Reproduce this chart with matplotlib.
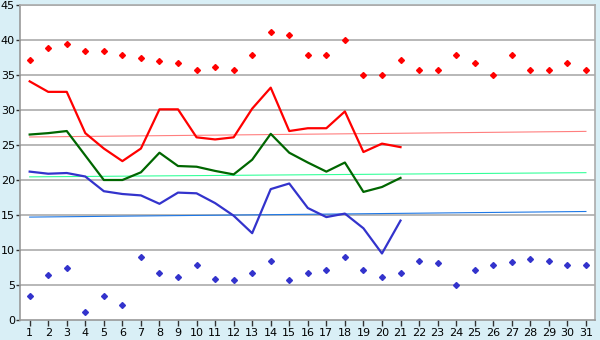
import matplotlib
matplotlib.use('Agg')
import matplotlib.pyplot as plt

days = list(range(1, 32))

# daily maxima / minima (points)
max_points = [37.2, 38.9, 39.4, 38.4, 38.4, 37.8, 37.4, 37.0, 36.7, 35.7,
              36.1, 35.7, 37.8, 41.1, 40.7, 37.8, 37.8, 40.0, 35.0, 35.0,
              37.2, 35.7, 35.7, 37.8, 36.7, 35.0, 37.8, 35.7, 35.7, 36.7,
              35.7]
min_points = [3.4, 6.4, 7.4, 1.1, 3.4, 2.2, 9.0, 6.7, 6.1, 7.8,
              5.8, 5.7, 6.7, 8.4, 5.7, 6.7, 7.2, 9.0, 7.2, 6.1,
              6.7, 8.4, 8.1, 5.0, 7.2, 7.8, 8.3, 8.7, 8.4, 7.8,
              7.8]

# measured lines, days 1..21
line_days = days[:21]
max_line = [34.1, 32.6, 32.6, 26.7, 24.5, 22.7, 24.5, 30.1, 30.1, 26.1,
            25.8, 26.1, 30.2, 33.2, 27.0, 27.4, 27.4, 29.8, 24.0, 25.2,
            24.7]
avg_line = [26.5, 26.7, 27.0, 23.5, 20.0, 20.0, 21.1, 23.9, 22.0, 21.9,
            21.3, 20.8, 22.9, 26.6, 23.9, 22.5, 21.2, 22.5, 18.3, 19.0,
            20.3]
min_line = [21.2, 20.9, 21.0, 20.5, 18.4, 18.0, 17.8, 16.6, 18.2, 18.1,
            16.7, 14.9, 12.4, 18.7, 19.5, 16.0, 14.7, 15.2, 13.1, 9.5,
            14.2]

# long-term reference lines (start / end values)
trend_days = [1, 31]
trend_max = [26.15, 26.95]
trend_avg = [20.45, 21.05]
trend_min = [14.7, 15.5]

bg = '#D9EFF6'
grid_c = '#ABABAB'

fig = plt.figure(figsize=(6, 3.4), dpi=100, facecolor=bg)
ax = fig.add_axes([0.034, 0.059, 0.958, 0.926])
ax.set_facecolor('white')

for y in range(5, 46, 5):
    ax.axhline(y, color=grid_c, lw=1.2, zorder=1)

ax.plot(trend_days, trend_max, color='#FF7F7F', lw=0.8, zorder=2)
ax.plot(trend_days, trend_avg, color='#33FF99', lw=0.8, zorder=2)
ax.plot(trend_days, trend_min, color='#1E78E6', lw=0.8, zorder=2)

ax.plot(line_days, max_line, color='#FF0000', lw=1.6, zorder=3)
ax.plot(line_days, avg_line, color='#006600', lw=1.6, zorder=3)
ax.plot(line_days, min_line, color='#3333CC', lw=1.6, zorder=3)

ax.plot(days, max_points, ls='none', marker='D', ms=3.0,
        color='#FF0000', zorder=4)
ax.plot(days, min_points, ls='none', marker='D', ms=3.0,
        color='#3333CC', zorder=4)

ax.set_xlim(0.5, 31.5)
ax.set_ylim(0, 45)
ax.set_xticks(days)
ax.set_yticks(range(0, 46, 5))
ax.tick_params(axis='x', labelsize=8, length=4, color='#333333',
               width=1, pad=2)
ax.tick_params(axis='y', labelsize=8, length=3, color='#333333',
               width=1, pad=1)

for side in ['top', 'right', 'bottom']:
    ax.spines[side].set_color(grid_c)
    ax.spines[side].set_linewidth(1.2)
ax.spines['left'].set_color('#999999')
ax.spines['left'].set_linewidth(1.2)
ax.spines['bottom'].set_color('#999999')

fig.savefig('out.png', dpi=100, facecolor=bg)
